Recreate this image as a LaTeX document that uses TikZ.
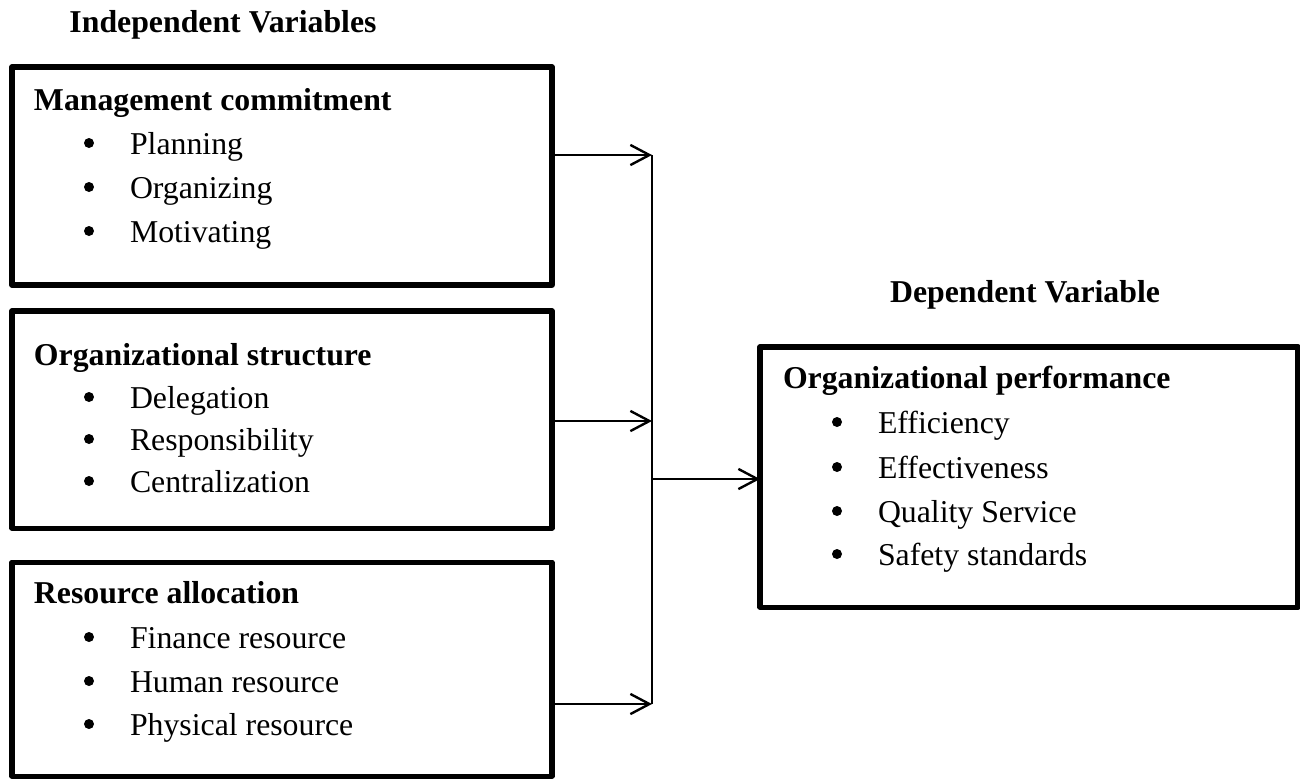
\documentclass[tikz,border=0pt]{standalone}
\usepackage{fontspec}
\setmainfont{Liberation Serif}
\usetikzlibrary{arrows.meta}
\begin{document}
\begin{tikzpicture}[x=0.3775pt,y=-0.3775pt,
  txt/.style={inner sep=0pt,outer sep=0pt,font=\fontsize{12}{14.4}\selectfont},
  ttl/.style={txt,font=\fontsize{12}{14.4}\selectfont\bfseries},
  bul/.style={circle,fill=black,inner sep=0pt,minimum size=10*0.3775pt},
  item/.style={txt,anchor=base west},
  varbox/.style={draw,line width=1.9pt,inner sep=0pt,outer sep=0pt,line join=round},
  arr/.style={line width=0.75pt,-{Straight Barb[length=7.2pt,width=7.6pt,line width=0.9pt]}},
  conn/.style={line width=0.75pt}]
\useasboundingbox (0,0) rectangle (1300,779);
% headings
\node[ttl,anchor=base] (hind) at (223,32) {Independent Variables};
\node[ttl,anchor=base] (hdep) at (1025,302) {Dependent Variable};
% boxes
\node[varbox,minimum width=540*0.3775pt,minimum height=218*0.3775pt] (b1) at (282,176) {};
\node[varbox,minimum width=540*0.3775pt,minimum height=217*0.3775pt] (b2) at (282,419.5) {};
\node[varbox,minimum width=540*0.3775pt,minimum height=214*0.3775pt] (b3) at (282,669) {};
\node[varbox,minimum width=538*0.3775pt,minimum height=260*0.3775pt] (rb) at (1029,477) {};
% box 1
\node[ttl,anchor=base west] (t1) at (34,110) {Management commitment};
\node[bul] (b1a) at (89,143) {};
\node[item] (i1a) at (130,154) {Planning};
\node[bul] (b1b) at (89,187) {};
\node[item] (i1b) at (130,198) {Organizing};
\node[bul] (b1c) at (89,231) {};
\node[item] (i1c) at (130,242) {Motivating};
% box 2
\node[ttl,anchor=base west] (t2) at (34,365) {Organizational structure};
\node[bul] (b2a) at (89,397) {};
\node[item] (i2a) at (130,408) {Delegation};
\node[bul] (b2b) at (89,439) {};
\node[item] (i2b) at (130,450) {Responsibility};
\node[bul] (b2c) at (89,481) {};
\node[item] (i2c) at (130,492) {Centralization};
% box 3
\node[ttl,anchor=base west] (t3) at (34,603) {Resource allocation};
\node[bul] (b3a) at (89,637) {};
\node[item] (i3a) at (130,648) {Finance resource};
\node[bul] (b3b) at (89,681) {};
\node[item] (i3b) at (130,692) {Human resource};
\node[bul] (b3c) at (89,724) {};
\node[item] (i3c) at (130,735) {Physical resource};
% right box
\node[ttl,anchor=base west] (t4) at (783,388) {Organizational performance};
\node[bul] (b4a) at (837,422) {};
\node[item] (i4a) at (878,433) {Efficiency};
\node[bul] (b4b) at (837,467) {};
\node[item] (i4b) at (878,478) {Effectiveness};
\node[bul] (b4c) at (837,511) {};
\node[item] (i4c) at (878,522) {Quality Service};
\node[bul] (b4d) at (837,554) {};
\node[item] (i4d) at (878,565) {Safety standards};
% connectors
\coordinate (j1) at (652,155);
\coordinate (j2) at (652,421);
\coordinate (j3) at (652,704);
\coordinate (jm) at (652,479);
\draw[arr] (b1.east |- j1) -- (j1);
\draw[arr] (b2.east |- j2) -- (j2);
\draw[arr] (b3.east |- j3) -- (j3);
\draw[conn] (j1) -- (j3);
\draw[arr] (jm) -- (jm -| rb.west);
\end{tikzpicture}
\end{document}
